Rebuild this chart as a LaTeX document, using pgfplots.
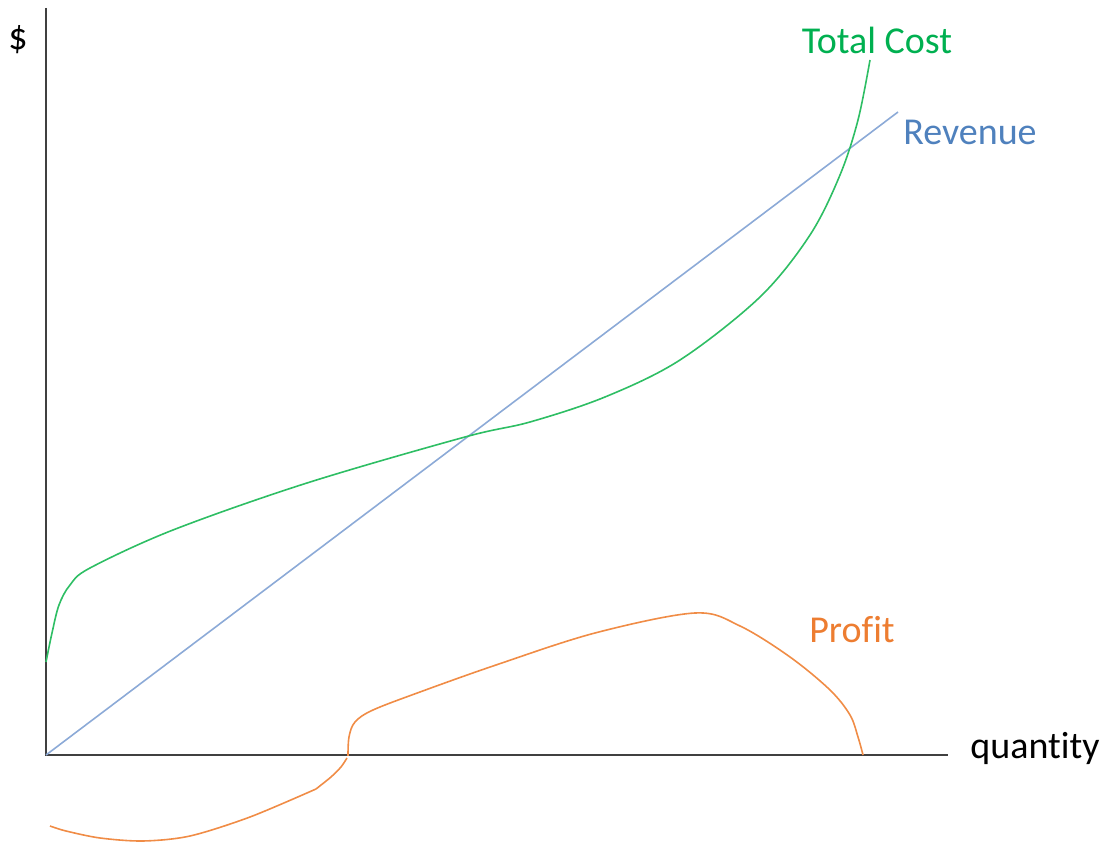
\documentclass[border=0pt]{standalone}
\usepackage{pgfplots}
\pgfplotsset{compat=1.18}
\usepackage{fontspec}
\setmainfont{Carlito}[Ligatures=NoCommon]
\definecolor{tcline}{RGB}{46,190,100}
\definecolor{tctext}{RGB}{0,176,80}
\definecolor{revline}{RGB}{140,170,215}
\definecolor{revtext}{RGB}{79,129,189}
\definecolor{prline}{RGB}{240,140,70}
\definecolor{prtext}{RGB}{237,125,49}
\definecolor{axcol}{RGB}{64,64,64}
\begin{document}
\begin{tikzpicture}
\begin{axis}[
  width=553.5pt, height=422.5pt, scale only axis,
  xmin=-46, xmax=1061, ymin=-90, ymax=755,
  axis lines=none, clip=false,
  every axis plot/.append style={line width=0.8pt},
]
\path (axis cs:-46,-90) rectangle (axis cs:1061,755);
% axes
\draw[axcol, line width=1pt] (axis cs:0,747) -- (axis cs:0,0) -- (axis cs:902,0);
% revenue
\addplot[revline] coordinates {(0,0) (852,643)};
% total cost
\addplot[tcline, smooth, tension=0.55] coordinates {
(0,93) (6,122) (13,150) (24,170) (44,187) (127,225) (261,272) (419,318)
(484,333) (559,358) (634,395) (714,458) (764,520) (794,580) (812,635) (824,695)};
% profit
\addplot[prline, smooth, tension=0.5] coordinates {
(4,-71) (20,-76) (54,-83) (97,-86) (144,-81) (204,-62) (270,-34)};
\addplot[prline, smooth, tension=0.4] coordinates {
(270,-34) (285,-22) (295,-12) (301,-3)};
\addplot[prline, smooth, tension=0.55] coordinates {
(302,-1) (303,18) (309,33) (327,45) (374,63) (450,90) (549,122)
(649,142) (694,129) (744,98) (784,65) (804,40) (812,18) (817,0)};
% labels
\node[font=\fontsize{19}{23}\selectfont] at (axis cs:-28,715) {\$};
\node[font=\fontsize{19}{23}\selectfont] at (axis cs:989,7) {quantity};
\node[font=\fontsize{19}{23}\selectfont, text=tctext] at (axis cs:831,715) {Total Cost};
\node[font=\fontsize{19}{23}\selectfont, text=revtext] at (axis cs:924,623) {Revenue};
\node[font=\fontsize{19}{23}\selectfont, text=prtext] at (axis cs:806,125) {Profit};
\end{axis}
\end{tikzpicture}
\end{document}
